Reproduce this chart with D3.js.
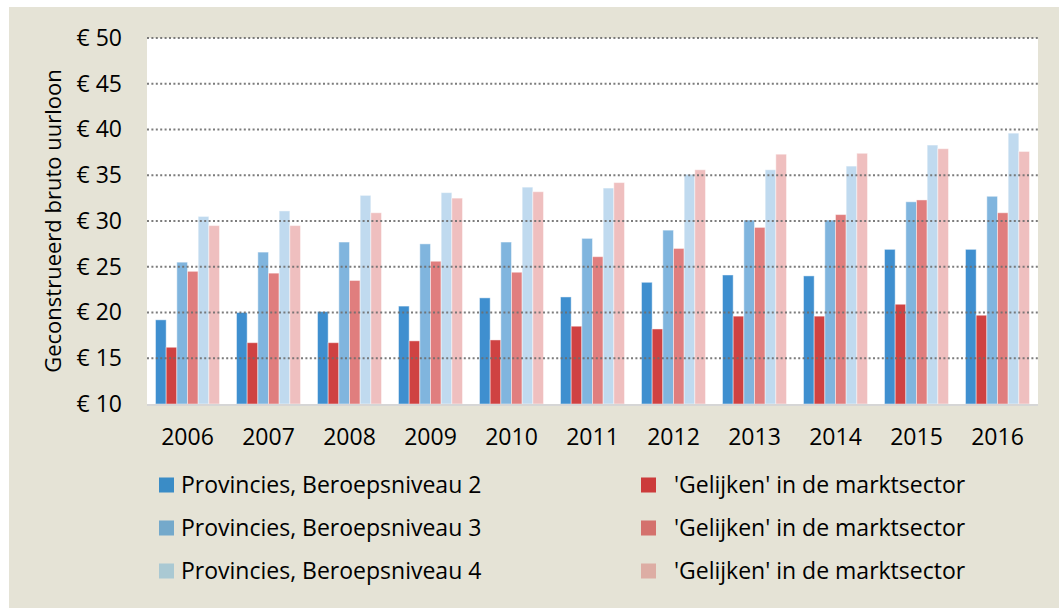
<!DOCTYPE html>
<html>
<head>
<meta charset="utf-8">
<script src="https://cdn.jsdelivr.net/npm/d3@7"></script>
<style>
  body { margin: 0; background: #ffffff; }
  text { font-family: "Open Sans", "Noto Sans", sans-serif; fill: #000; }
</style>
</head>
<body>
<div id="chart"></div>
<script>
// years on the x axis
var years = ["2006", "2007", "2008", "2009", "2010", "2011", "2012", "2013", "2014", "2015", "2016"];

// series, in the order the bars stand in each group
var prov2 = [19.2, 20.0, 20.1, 20.7, 21.6, 21.7, 23.3, 24.1, 24.0, 26.9, 26.9];
var gel2  = [16.2, 16.7, 16.7, 16.9, 17.0, 18.5, 18.2, 19.6, 19.6, 20.9, 19.7];
var prov3 = [25.5, 26.6, 27.7, 27.5, 27.7, 28.1, 29.0, 30.1, 30.1, 32.1, 32.7];
var gel3  = [24.5, 24.3, 23.5, 25.6, 24.4, 26.1, 27.0, 29.3, 30.7, 32.3, 30.9];
var prov4 = [30.5, 31.1, 32.8, 33.1, 33.7, 33.6, 35.1, 35.6, 36.0, 38.3, 39.6];
var gel4  = [29.5, 29.5, 30.9, 32.5, 33.2, 34.2, 35.6, 37.3, 37.4, 37.9, 37.6];

var seriesNames = ["Provincies, Beroepsniveau 2", "'Gelijken' in de marktsector",
                   "Provincies, Beroepsniveau 3", "'Gelijken' in de marktsector",
                   "Provincies, Beroepsniveau 4", "'Gelijken' in de marktsector"];
var yTicks = [10, 15, 20, 25, 30, 35, 40, 45, 50];

var series = [prov2, gel2, prov3, gel3, prov4, gel4];
var barColors = ["#3f8fcf", "#cf4242", "#80b5de", "#e07e7e", "#c0daef", "#efbfbf"];
var keyColors = ["#3a8cc6", "#cc3b3b", "#74a9cb", "#d4716d", "#aac9d3", "#ddada4"];

var W = 1059, H = 608;
var plot = {left: 147, right: 1038, top: 38, bottom: 404};

var svg = d3.select("#chart").append("svg")
    .attr("width", W).attr("height", H);

// beige panel
svg.append("rect").attr("x", 9).attr("y", 7)
    .attr("width", W - 9).attr("height", H - 7).attr("fill", "#e5e3d6");
// white plot area
svg.append("rect").attr("x", plot.left).attr("y", plot.top)
    .attr("width", plot.right - plot.left).attr("height", plot.bottom - plot.top)
    .attr("fill", "#ffffff");

var x0 = d3.scaleBand().domain(years).range([plot.left, plot.right]).paddingInner(0.21).paddingOuter(0.105);
var x1 = d3.scaleBand().domain(d3.range(6)).range([0, x0.bandwidth()]);
var y = d3.scaleLinear().domain([10, 50]).range([plot.bottom, plot.top]);

// bars
var groups = svg.append("g").selectAll("g")
    .data(years).enter().append("g")
    .attr("transform", function(d) { return "translate(" + x0(d) + ",0)"; });

groups.selectAll("rect")
    .data(function(d, i) { return series.map(function(s, k) { return {k: k, v: s[i]}; }); })
    .enter().append("rect")
    .attr("x", function(d) { return x1(d.k); })
    .attr("y", function(d) { return y(d.v); })
    .attr("width", x1.bandwidth())
    .attr("height", function(d) { return y(10) - y(d.v); })
    .attr("fill", function(d) { return barColors[d.k]; })
    .attr("stroke", "rgba(255,255,255,0.45)")
    .attr("stroke-width", 1);

// dotted gridlines drawn over the bars
svg.append("g").selectAll("line")
    .data(yTicks.filter(function(t) { return t > 10; }))
    .enter().append("line")
    .attr("x1", plot.left).attr("x2", plot.right)
    .attr("y1", function(d) { return y(d); }).attr("y2", function(d) { return y(d); })
    .attr("stroke", "#6e6e6e").attr("stroke-width", 2)
    .attr("stroke-dasharray", "2,2.4")
    .attr("opacity", 0.9);

// baseline
svg.append("line")
    .attr("x1", plot.left).attr("x2", plot.right)
    .attr("y1", y(10) + 1).attr("y2", y(10) + 1)
    .attr("stroke", "#d6d6d6").attr("stroke-width", 2);

// y axis labels
var yAxis = d3.axisLeft(y).tickValues(yTicks).tickSize(0).tickPadding(25)
    .tickFormat(function(d) { return "€ " + d; });
var ya = svg.append("g").attr("transform", "translate(" + plot.left + ",0)").call(yAxis);
ya.select(".domain").remove();
ya.selectAll("text").style("font-size", "23px").attr("font-family", null).attr("fill", "#000");

// x axis labels
var xAxis = d3.axisBottom(x0).tickSize(0).tickPadding(25);
var xa = svg.append("g").attr("transform", "translate(0," + plot.bottom + ")").call(xAxis);
xa.select(".domain").remove();
xa.selectAll("text").style("font-size", "23px").attr("font-family", null).attr("fill", "#000");

// y title
svg.append("text")
    .attr("transform", "translate(61," + ((plot.top + plot.bottom) / 2) + ") rotate(-90)")
    .attr("text-anchor", "middle")
    .style("font-size", "22px")
    .text("Geconstrueerd bruto uurloon");

// legend
var legendPos = [[159, 485], [641, 485], [159, 528], [641, 528], [159, 571], [641, 571]];
var textX = [181, 674];
var leg = svg.append("g").selectAll("g")
    .data(seriesNames).enter().append("g");
leg.append("rect")
    .attr("x", function(d, i) { return legendPos[i][0]; })
    .attr("y", function(d, i) { return legendPos[i][1] - 7.5; })
    .attr("width", 15).attr("height", 15)
    .attr("fill", function(d, i) { return keyColors[i]; });
leg.append("text")
    .attr("x", function(d, i) { return textX[i % 2]; })
    .attr("y", function(d, i) { return legendPos[i][1]; })
    .attr("dy", "0.35em")
    .style("font-size", "23px")
    .text(function(d) { return d; });
</script>
</body>
</html>
